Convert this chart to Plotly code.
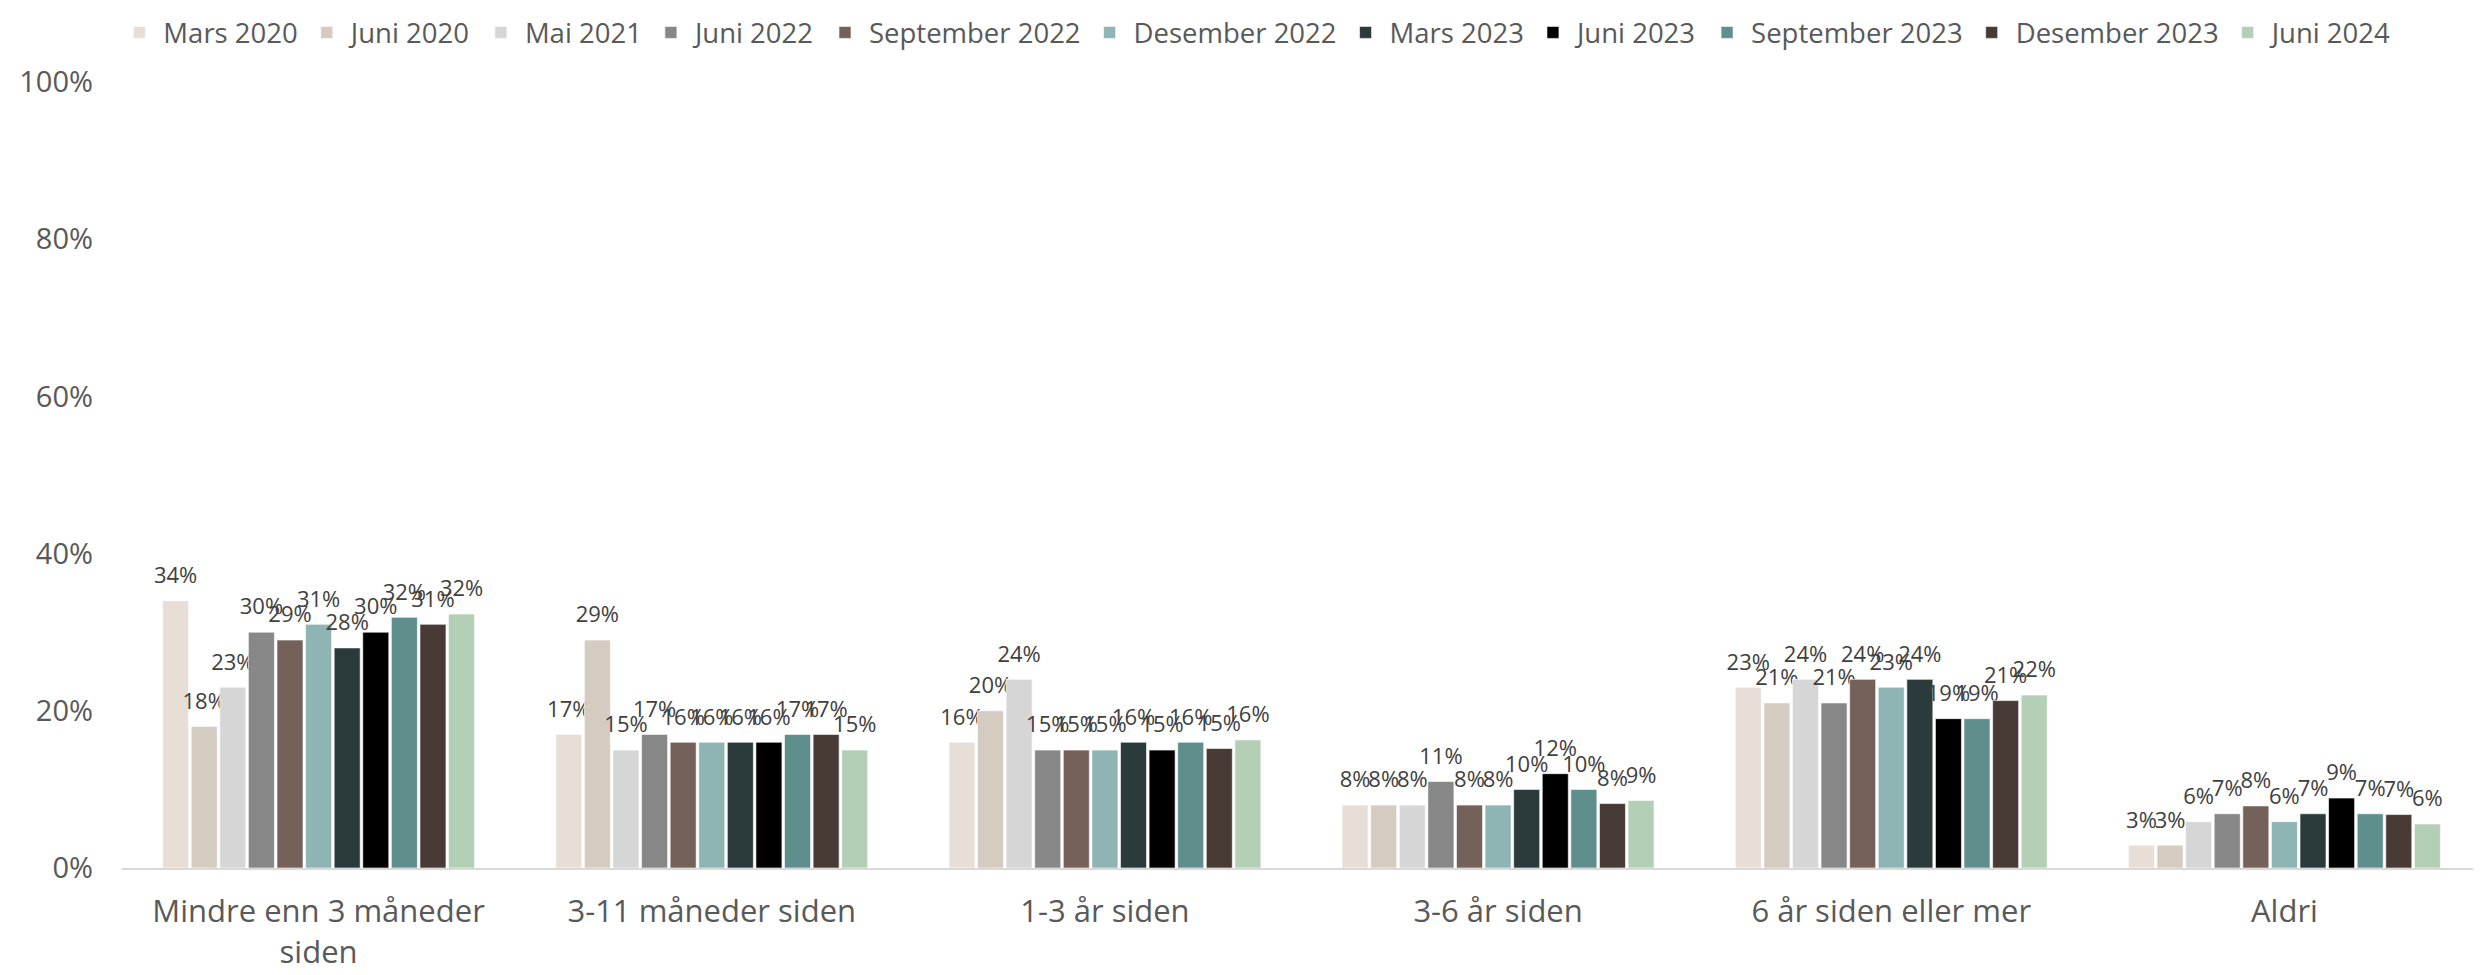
import plotly.graph_objects as go

categories = ["Mindre enn 3 måneder<br>siden", "3-11 måneder siden", "1-3 år siden",
              "3-6 år siden", "6 år siden eller mer", "Aldri"]

series_names = ["Mars 2020", "Juni 2020", "Mai 2021", "Juni 2022", "September 2022",
                "Desember 2022", "Mars 2023", "Juni 2023", "September 2023",
                "Desember 2023", "Juni 2024"]

mars_2020 = [34.0, 17.0, 16.0, 8.0, 23.0, 2.9]
juni_2020 = [18.0, 29.0, 20.0, 8.0, 21.0, 2.9]
mai_2021 = [23.0, 15.0, 24.0, 8.0, 24.0, 5.9]
juni_2022 = [30.0, 17.0, 15.0, 11.0, 21.0, 6.9]
september_2022 = [29.0, 16.0, 15.0, 8.0, 24.0, 7.9]
desember_2022 = [31.0, 16.0, 15.0, 8.0, 23.0, 5.9]
mars_2023 = [28.0, 16.0, 16.0, 10.0, 24.0, 6.9]
juni_2023 = [30.0, 16.0, 15.0, 12.0, 19.0, 8.9]
september_2023 = [31.9, 17.0, 16.0, 10.0, 19.0, 6.9]
desember_2023 = [31.0, 17.0, 15.2, 8.2, 21.3, 6.8]
juni_2024 = [32.3, 15.0, 16.3, 8.6, 22.0, 5.6]

values = [mars_2020, juni_2020, mai_2021, juni_2022, september_2022, desember_2022,
          mars_2023, juni_2023, september_2023, desember_2023, juni_2024]

colors = ["#E6DED7", "#D4CBC1", "#D6D6D6", "#878787", "#74625A", "#8EB4B4",
          "#2B3B3B", "#000000", "#5E8F8D", "#483B36", "#B3CFB5"]

y_ticks = [0, 20, 40, 60, 80, 100]

FONT = "Open Sans"
TXT = "#595959"

fig = go.Figure()
for name, vals, col in zip(series_names, values, colors):
    fig.add_trace(go.Bar(
        name=name, x=categories, y=vals,
        marker=dict(color=col, line=dict(color="rgba(255,255,255,0.6)", width=1)),
        text=[f"<span style='font-size:22px'>{v:.0f}%</span><br> " for v in vals],
        textposition="outside",
        constraintext="none",
        cliponaxis=False,
        textfont=dict(family=FONT, size=9, color="#404040"),
        hoverinfo="skip",
    ))

fig.update_layout(
    barmode="group",
    bargap=0.2,
    bargroupgap=0.09,
    width=2473, height=967,
    paper_bgcolor="white", plot_bgcolor="white",
    margin=dict(l=114, r=0, t=74, b=107, autoexpand=False),
    font=dict(family=FONT, color=TXT),
    legend=dict(orientation="h", x=0.505, xanchor="center", xref="container",
                y=1.0, yanchor="top", yref="container",
                font=dict(size=27.5, color=TXT, family=FONT),
                itemwidth=38, tracegroupgap=0),
    showlegend=True,
)
fig.update_xaxes(showline=True, linecolor="#D9D9D9", linewidth=2,
                 tickfont=dict(size=31, color=TXT, family=FONT), ticks="",
                 showgrid=False, ticklabelstandoff=15)
fig.update_yaxes(range=[0, 100], tickvals=y_ticks, ticktext=[f"{t}%" for t in y_ticks],
                 showgrid=False, zeroline=False, showline=False,
                 tickfont=dict(size=29, color=TXT, family=FONT), ticklabelstandoff=28)

fig.write_html("out.html")
